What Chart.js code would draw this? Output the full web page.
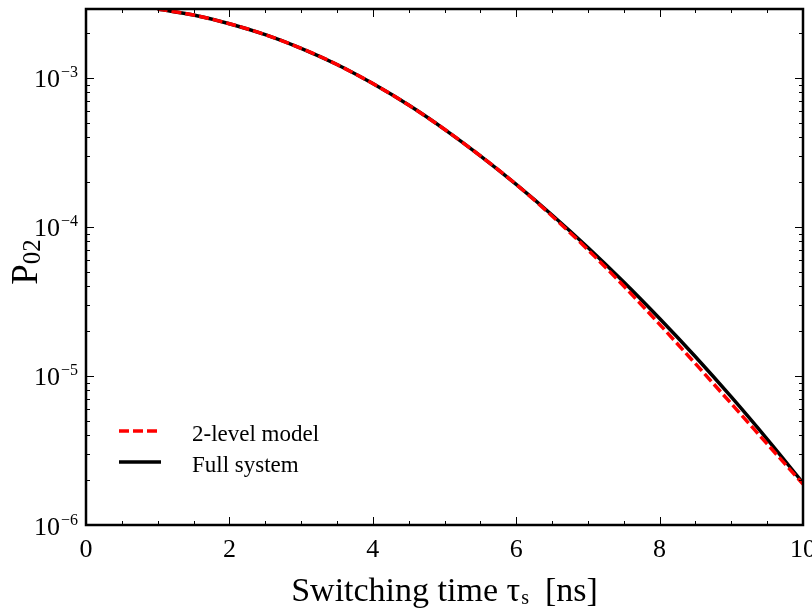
<!DOCTYPE html>
<html>
<head>
<meta charset="utf-8">
<script src="https://cdn.jsdelivr.net/npm/chart.js@4.4.1/dist/chart.umd.min.js"></script>
<style>
  html, body { margin: 0; padding: 0; background: #fff; }
  #wrap { width: 812px; height: 611px; }
</style>
</head>
<body>
<div id="wrap"><canvas id="p02Chart" width="812" height="611"></canvas></div>
<script>
// ===== P02 vs switching time =====

const tauValues = [1, 1.5, 2, 2.5, 3, 3.5, 4, 4.5, 5, 5.5, 6, 6.5, 7, 7.5, 8, 8.5, 9, 9.5, 10];

const twoLevelModel = [
  2.9e-3, 2.64e-3, 2.31e-3, 1.95e-3, 1.58e-3, 1.23e-3, 9.16e-4, 6.57e-4, 4.52e-4, 3.0e-4,
  1.93e-4, 1.184e-4, 7.03e-5, 4.01e-5, 2.22e-5, 1.208e-5, 6.52e-6, 3.5e-6, 1.88e-6
];

const fullSystem = [
  2.9e-3, 2.64e-3, 2.31e-3, 1.95e-3, 1.58e-3, 1.23e-3, 9.16e-4, 6.57e-4, 4.52e-4, 3.0e-4,
  1.93e-4, 1.203e-4, 7.28e-5, 4.27e-5, 2.43e-5, 1.346e-5, 7.23e-6, 3.77e-6, 1.916e-6
];

const seriesLabels = ['2-level model', 'Full system'];

const xTicks = [0, 2, 4, 6, 8, 10];
const xMinorTicks = [0.5, 1, 1.5, 2.5, 3, 3.5, 4.5, 5, 5.5, 6.5, 7, 7.5, 8.5, 9, 9.5];
const yMajorTicks = [1e-6, 1e-5, 1e-4, 1e-3];
const yMin = 1e-6;
const yMax = 2.9e-3;

const SERIF = '"Liberation Serif", "Times New Roman", serif';

function toPoints(values) {
  return tauValues.map((t, i) => ({ x: t, y: values[i] }));
}

function line(ctx, x1, y1, x2, y2) {
  ctx.beginPath();
  ctx.moveTo(x1, y1);
  ctx.lineTo(x2, y2);
  ctx.stroke();
}

// inward ticks on all four sides, the frame, and the mathtext-like labels
const axesPlugin = {
  id: 'axesPlugin',
  afterDraw(chart) {
    const { ctx, chartArea: a, scales: { x, y } } = chart;
    ctx.save();
    ctx.strokeStyle = '#000';
    ctx.fillStyle = '#000';
    ctx.lineWidth = 1;

    const tickX = (v, len) => {
      const px = Math.round(x.getPixelForValue(v)) + 0.5;
      line(ctx, px, a.bottom, px, a.bottom - len);
      line(ctx, px, a.top, px, a.top + len);
    };
    const tickY = (v, len) => {
      const py = Math.round(y.getPixelForValue(v)) + 0.5;
      line(ctx, a.left, py, a.left + len, py);
      line(ctx, a.right, py, a.right - len, py);
    };

    xTicks.forEach(v => tickX(v, 8));
    xMinorTicks.forEach(v => tickX(v, 4));
    yMajorTicks.forEach(v => tickY(v, 8));
    for (let d = -6; d <= -3; d++) {
      for (let k = 2; k <= 9; k++) {
        const v = k * Math.pow(10, d);
        if (v < yMax) tickY(v, 4);
      }
    }

    ctx.lineWidth = 2.5;
    ctx.strokeRect(a.left, a.top, a.right - a.left, a.bottom - a.top);

    // x tick labels
    ctx.font = `26px ${SERIF}`;
    ctx.textAlign = 'center';
    ctx.textBaseline = 'alphabetic';
    xTicks.forEach(v => {
      ctx.fillText(String(v), x.getPixelForValue(v), a.bottom + 32);
    });

    // y tick labels: 10^-n
    yMajorTicks.forEach(v => {
      const py = y.getPixelForValue(v);
      const exp = Math.round(Math.log10(v));
      ctx.font = `26px ${SERIF}`;
      ctx.textAlign = 'right';
      ctx.fillText('10', a.left - 26, py + 9.5);
      ctx.font = `16px ${SERIF}`;
      ctx.textAlign = 'left';
      ctx.fillText('\u2212' + Math.abs(exp), a.left - 25, py - 0.5);
    });

    // x title: Switching time τs  [ns]
    const midX = (a.left + a.right) / 2;
    const base = 601;
    ctx.font = `34px ${SERIF}`;
    const part1 = 'Switching time \u03c4';
    const part3 = '  [ns]';
    const w1 = ctx.measureText(part1).width;
    const w3 = ctx.measureText(part3).width;
    ctx.font = `20px ${SERIF}`;
    const w2 = ctx.measureText('s').width;
    let tx = midX - (w1 + w2 + w3) / 2;
    ctx.textAlign = 'left';
    ctx.font = `34px ${SERIF}`;
    ctx.fillText(part1, tx, base);
    ctx.font = `20px ${SERIF}`;
    ctx.fillText('s', tx + w1 + 1, base + 3);
    ctx.font = `34px ${SERIF}`;
    ctx.fillText(part3, tx + w1 + w2, base);

    // y title: P02
    ctx.save();
    ctx.translate(37, 262);
    ctx.rotate(-Math.PI / 2);
    ctx.font = `37px ${SERIF}`;
    const wp = ctx.measureText('P').width;
    ctx.font = `25px ${SERIF}`;
    const ws = ctx.measureText('02').width;
    const sx = -(wp + ws) / 2;
    ctx.font = `37px ${SERIF}`;
    ctx.fillText('P', sx, 0);
    ctx.font = `25px ${SERIF}`;
    ctx.fillText('02', sx + wp, 3);
    ctx.restore();

    // legend
    const rows = [a.bottom - 94, a.bottom - 63];
    chart.data.datasets.forEach((ds, i) => {
      const ly = rows[i];
      ctx.strokeStyle = ds.borderColor;
      ctx.lineWidth = ds.borderWidth;
      ctx.setLineDash(ds.borderDash || []);
      line(ctx, a.left + 33, ly, a.left + 75, ly);
      ctx.setLineDash([]);
      ctx.font = `23px ${SERIF}`;
      ctx.textAlign = 'left';
      ctx.fillStyle = '#000';
      ctx.fillText(ds.label, a.left + 106, ly + 10);
    });

    ctx.restore();
  }
};

const ctx = document.getElementById('p02Chart').getContext('2d');

new Chart(ctx, {
  type: 'line',
  data: {
    datasets: [
      {
        label: seriesLabels[0],
        data: toPoints(twoLevelModel),
        borderColor: '#ff0000',
        borderWidth: 3.5,
        borderDash: [10, 4],
        pointRadius: 0,
        fill: false,
        cubicInterpolationMode: 'monotone',
      },
      {
        label: seriesLabels[1],
        data: toPoints(fullSystem),
        borderColor: '#000000',
        borderWidth: 3.5,
        pointRadius: 0,
        fill: false,
        cubicInterpolationMode: 'monotone',
      }
    ]
  },
  options: {
    responsive: false,
    animation: false,
    devicePixelRatio: 1,
    layout: { padding: { left: 0, right: 9, top: 9, bottom: 0 } },
    plugins: {
      legend: { display: false },
      tooltip: { enabled: false }
    },
    scales: {
      x: {
        type: 'linear',
        min: 0,
        max: 10,
        grid: { display: false },
        border: { display: false },
        ticks: { display: false },
        afterFit: (scale) => { scale.height = 86; }
      },
      y: {
        type: 'logarithmic',
        min: yMin,
        max: yMax,
        grid: { display: false },
        border: { display: false },
        ticks: { display: false },
        afterFit: (scale) => { scale.width = 86; }
      }
    }
  },
  plugins: [axesPlugin]
});
</script>
</body>
</html>
